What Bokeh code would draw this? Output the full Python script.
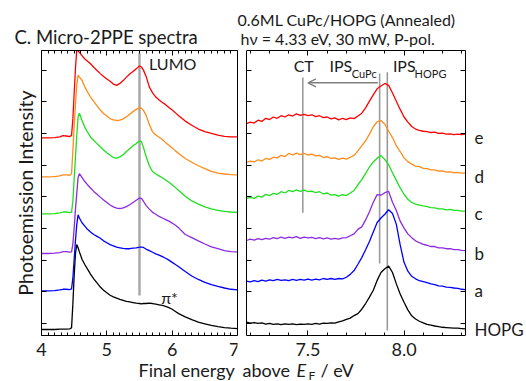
import math
from bokeh.plotting import figure
from bokeh.models import (Range1d, LinearAxis, FixedTicker, Label, Arrow, OpenHead,
                          NumeralTickFormatter)
from bokeh.layouts import row, column
from bokeh.embed import file_html
from bokeh.resources import INLINE

FONT = "Lato"
TEXT = "#1a1a1a"
GRAY = "#9a9a9a"

# ---------------- data ----------------
names = ["HOPG", "a", "b", "c", "d", "e"]
colors = ["#000000", "#0000ff", "#8b2be2", "#1ee01e", "#ff8c1a", "#ff0000"]
offsets = [-0.19, 1.03, 2.21, 3.46, 4.63, 5.86]

left_energy = [4.00, 4.10, 4.20, 4.28, 4.33, 4.38, 4.43,
               4.46, 4.48, 4.50, 4.52, 4.54, 4.56, 4.58,
               4.62, 4.66, 4.70, 4.75, 4.80, 4.85, 4.90, 4.95,
               5.00, 5.05, 5.10, 5.15, 5.20, 5.25, 5.30, 5.35, 5.40, 5.45,
               5.50, 5.53, 5.56, 5.60, 5.65, 5.70, 5.75, 5.80, 5.85, 5.90, 5.95,
               6.00, 6.05, 6.10,
               6.20, 6.30, 6.40, 6.50, 6.60, 6.70, 6.80, 6.90, 7.00]

left_hopg = [0.00, 0.00, 0.00, 0.01, 0.01, 0.01, 0.02,
             0.05, 0.80, 1.70, 2.40, 2.68, 2.58, 2.45,
             2.22, 2.06, 1.92, 1.75, 1.60, 1.47, 1.34, 1.24,
             1.16, 1.08, 1.03, 0.99, 0.95, 0.92, 0.89, 0.87, 0.85, 0.83,
             0.82, 0.81, 0.82, 0.82, 0.83, 0.82, 0.80, 0.78, 0.76, 0.73, 0.69,
             0.64, 0.57, 0.50,
             0.40, 0.31, 0.23, 0.18, 0.13, 0.09, 0.06, 0.04, 0.03]
left_a = [0.00, 0.00, 0.01, 0.03, 0.05, 0.05, 0.04,
          0.06, 0.40, 1.00, 1.60, 2.10, 2.40, 2.30,
          2.15, 2.05, 1.95, 1.86, 1.78, 1.72, 1.66, 1.58,
          1.52, 1.46, 1.42, 1.38, 1.36, 1.34, 1.33, 1.33, 1.35, 1.36,
          1.38, 1.38, 1.37, 1.32, 1.27, 1.22, 1.17, 1.13, 1.08, 1.03, 0.97,
          0.90, 0.83, 0.76,
          0.61, 0.47, 0.36, 0.27, 0.20, 0.14, 0.09, 0.05, 0.03]
left_b = [0.00, 0.00, 0.01, 0.03, 0.06, 0.06, 0.04,
          0.05, 0.30, 0.80, 1.40, 1.90, 2.40, 2.52,
          2.40, 2.28, 2.18, 2.07, 1.96, 1.87, 1.78, 1.69,
          1.61, 1.53, 1.47, 1.43, 1.42, 1.44, 1.48, 1.54, 1.61, 1.68,
          1.75, 1.74, 1.65, 1.52, 1.40, 1.30, 1.24, 1.17, 1.12, 1.07, 1.02,
          0.96, 0.89, 0.81,
          0.60, 0.50, 0.40, 0.30, 0.21, 0.15, 0.09, 0.06, 0.05]
left_c = [0.00, 0.00, 0.01, 0.03, 0.06, 0.06, 0.04,
          0.05, 0.40, 1.10, 1.80, 2.50, 3.05, 3.18,
          2.95, 2.75, 2.60, 2.43, 2.32, 2.22, 2.12, 2.02,
          1.93, 1.85, 1.78, 1.76, 1.80, 1.87, 1.97, 2.06, 2.15, 2.22,
          2.30, 2.28, 2.10, 1.82, 1.52, 1.34, 1.26, 1.20, 1.14, 1.07, 1.00,
          0.92, 0.83, 0.74,
          0.56, 0.41, 0.31, 0.22, 0.16, 0.11, 0.08, 0.06, 0.05]
left_d = [0.00, 0.00, 0.01, 0.03, 0.06, 0.06, 0.05,
          0.10, 0.80, 1.60, 2.30, 2.90, 3.21, 3.15,
          3.05, 2.85, 2.70, 2.52, 2.38, 2.24, 2.11, 2.00,
          1.92, 1.84, 1.80, 1.78, 1.79, 1.83, 1.90, 1.98, 2.06, 2.13,
          2.18, 2.17, 2.10, 1.95, 1.65, 1.42, 1.32, 1.25, 1.18, 1.08, 1.00,
          0.91, 0.82, 0.74,
          0.58, 0.46, 0.35, 0.26, 0.17, 0.12, 0.09, 0.07, 0.06]
left_e = [0.00, 0.00, 0.01, 0.03, 0.07, 0.06, 0.04,
          0.08, 0.60, 1.40, 2.20, 2.80, 2.75, 2.70,
          2.60, 2.50, 2.43, 2.34, 2.23, 2.13, 2.03, 1.94,
          1.86, 1.79, 1.70, 1.66, 1.72, 1.81, 1.92, 2.02, 2.10, 2.18,
          2.27, 2.24, 2.14, 1.95, 1.61, 1.42, 1.29, 1.20, 1.12, 1.05, 0.96,
          0.88, 0.79, 0.70,
          0.53, 0.40, 0.28, 0.20, 0.14, 0.09, 0.05, 0.03, 0.03]

right_energy = [7.18, 7.20, 7.22, 7.24, 7.26, 7.28, 7.30, 7.32, 7.34, 7.36,
                7.38, 7.40, 7.42, 7.44, 7.46, 7.48, 7.50, 7.52, 7.54, 7.56,
                7.58, 7.60, 7.62, 7.64, 7.66, 7.68, 7.70, 7.72, 7.74, 7.76,
                7.78, 7.80, 7.82, 7.84, 7.86, 7.88, 7.90, 7.92, 7.94, 7.96,
                7.98, 8.00, 8.02, 8.04, 8.06, 8.08, 8.10, 8.12, 8.14, 8.16,
                8.18, 8.20, 8.22, 8.24, 8.26, 8.28, 8.30, 8.32]

right_hopg = [0.23, 0.20, 0.22, 0.19, 0.21, 0.17, 0.19, 0.16, 0.18, 0.15,
              0.18, 0.16, 0.18, 0.15, 0.17, 0.16, 0.18, 0.16, 0.19, 0.17,
              0.20, 0.19, 0.21, 0.20, 0.24, 0.27, 0.32, 0.36, 0.44, 0.50,
              0.64, 0.82, 1.02, 1.24, 1.55, 1.80, 1.92, 2.00, 1.80, 1.44,
              1.12, 0.86, 0.62, 0.43, 0.33, 0.26, 0.21, 0.16, 0.14, 0.11,
              0.09, 0.07, 0.06, 0.05, 0.04, 0.04, 0.03, 0.02]
right_a = [0.31, 0.28, 0.32, 0.29, 0.34, 0.31, 0.35, 0.32, 0.36, 0.33,
           0.35, 0.32, 0.36, 0.33, 0.36, 0.34, 0.37, 0.34, 0.37, 0.35,
           0.39, 0.36, 0.39, 0.36, 0.39, 0.38, 0.43, 0.52, 0.64, 0.84,
           1.05, 1.30, 1.56, 1.86, 2.16, 2.30, 2.42, 2.56, 2.44, 2.10,
           1.45, 0.90, 0.62, 0.46, 0.38, 0.32, 0.29, 0.26, 0.22, 0.20,
           0.16, 0.15, 0.12, 0.11, 0.09, 0.08, 0.05, 0.04]
right_b = [0.41, 0.45, 0.42, 0.47, 0.44, 0.48, 0.45, 0.50, 0.47, 0.52,
           0.48, 0.52, 0.49, 0.53, 0.48, 0.52, 0.49, 0.51, 0.47, 0.50,
           0.46, 0.49, 0.45, 0.48, 0.45, 0.49, 0.50, 0.56, 0.62, 0.76,
           0.84, 1.06, 1.32, 1.62, 1.86, 1.84, 1.92, 1.96, 1.62, 1.36,
           1.02, 0.80, 0.62, 0.50, 0.40, 0.34, 0.29, 0.26, 0.22, 0.22,
           0.18, 0.18, 0.15, 0.15, 0.12, 0.12, 0.10, 0.09]
right_c = [0.48, 0.52, 0.49, 0.56, 0.53, 0.62, 0.58, 0.65, 0.62, 0.70,
           0.66, 0.74, 0.70, 0.76, 0.71, 0.75, 0.70, 0.72, 0.67, 0.70,
           0.63, 0.66, 0.59, 0.61, 0.56, 0.61, 0.58, 0.66, 0.74, 0.92,
           1.08, 1.28, 1.48, 1.64, 1.76, 1.84, 1.72, 1.55, 1.30, 1.06,
           0.82, 0.62, 0.46, 0.36, 0.31, 0.28, 0.25, 0.23, 0.20, 0.19,
           0.16, 0.16, 0.13, 0.14, 0.11, 0.11, 0.09, 0.09]
right_d = [0.46, 0.50, 0.47, 0.54, 0.50, 0.58, 0.55, 0.62, 0.60, 0.68,
           0.64, 0.74, 0.69, 0.75, 0.70, 0.74, 0.69, 0.72, 0.66, 0.68,
           0.61, 0.64, 0.58, 0.60, 0.55, 0.59, 0.56, 0.62, 0.68, 0.82,
           0.98, 1.14, 1.35, 1.58, 1.74, 1.78, 1.66, 1.44, 1.24, 0.98,
           0.80, 0.60, 0.48, 0.40, 0.34, 0.32, 0.27, 0.26, 0.22, 0.22,
           0.18, 0.19, 0.15, 0.16, 0.13, 0.14, 0.12, 0.12]
right_e = [0.45, 0.50, 0.47, 0.56, 0.52, 0.62, 0.58, 0.66, 0.62, 0.70,
           0.66, 0.73, 0.69, 0.76, 0.71, 0.74, 0.70, 0.73, 0.67, 0.70,
           0.64, 0.66, 0.60, 0.63, 0.57, 0.62, 0.58, 0.63, 0.61, 0.69,
           0.78, 0.95, 1.16, 1.36, 1.55, 1.64, 1.72, 1.66, 1.42, 1.16,
           0.90, 0.66, 0.50, 0.36, 0.28, 0.24, 0.21, 0.20, 0.17, 0.18,
           0.14, 0.15, 0.12, 0.13, 0.10, 0.12, 0.10, 0.12]

left_spectra = [left_hopg, left_a, left_b, left_c, left_d, left_e]
right_spectra = [right_hopg, right_a, right_b, right_c, right_d, right_e]

lumo_energy = 5.50
ct_energy = 7.473
ips_cupc_energy = 7.873
ips_hopg_energy = 7.913

left_xlim = (4.0, 7.0)
right_xlim = (7.18, 8.32)
ylim = (-0.38, 8.62)
left_xticks = [4, 5, 6, 7]
right_xticks = [7.5, 8.0]
yticks = [0, 1, 2, 3, 4, 5, 6, 7, 8]

# ---------------- layout geometry (pixels) ----------------
HEAD_H = 47                  # header strip; panel frames start at y = 50
TOP_B = 50 - HEAD_H
PANEL_H = 381 - HEAD_H
PX_PER_Y = 285 / (ylim[1] - ylim[0])         # box is 285 px tall (50..335)
Y_LOW = ylim[0] - (PANEL_H - TOP_B - 285) / PX_PER_Y   # frame reaches canvas bottom

L_PX = 196 / (left_xlim[1] - left_xlim[0])   # box 41..237
L_X0 = left_xlim[0] - 41 / L_PX              # frame starts at x = 0
R_PX = 219 / (right_xlim[1] - right_xlim[0])  # box 246..465
R_X0 = right_xlim[0] - 7 / R_PX              # frame starts at x = 239


def make_fig(x0, x1, width, br):
    p = figure(width=width, height=PANEL_H, x_range=Range1d(x0, x1),
               y_range=Range1d(Y_LOW, ylim[1]), title=None,
               output_backend="svg", toolbar_location=None,
               min_border_left=0, min_border_right=br, min_border_top=TOP_B,
               min_border_bottom=0, x_axis_location=None, y_axis_location=None)
    for g in p.grid:
        g.visible = False
    p.outline_line_color = None
    p.background_fill_color = "white"
    p.border_fill_color = "white"
    return p


def add_axis(p, side, ticker, bounds, fixed=None, show_labels=False, fmt=None,
             minor=True, ticks=True):
    ax = LinearAxis(ticker=ticker, bounds=bounds)
    if fixed is not None:
        ax.fixed_location = fixed
    ax.major_tick_in = 5 if ticks else 0
    ax.major_tick_out = 0
    ax.minor_tick_in = 3 if (minor and ticks) else 0
    ax.minor_tick_out = 0
    ax.axis_line_color = "black"
    ax.major_tick_line_color = "black"
    ax.minor_tick_line_color = "black"
    if show_labels:
        ax.major_label_text_font = FONT
        ax.major_label_text_font_size = "18px"
        ax.major_label_text_color = TEXT
        ax.major_label_standoff = 7
        if fmt:
            ax.formatter = NumeralTickFormatter(format=fmt)
    else:
        ax.major_label_text_font_size = "0px"
        ax.major_label_text_color = None
        ax.major_label_standoff = 0
    p.add_layout(ax, side)
    return ax


def lab(p, x, y, text, size, align="left", baseline="middle", style="normal", angle=0.0):
    p.add_layout(Label(x=x, y=y, text=text, text_font=FONT, text_font_size=size,
                       text_color=TEXT, text_align=align, text_baseline=baseline,
                       text_font_style=style, angle=angle))


def y_at(py):
    """data y of a pixel row (for text placement only)"""
    return ylim[1] - (py - 50) / PX_PER_Y


# ---------------- left panel ----------------
p1 = make_fig(L_X0, left_xlim[1], 239, 2)
lminor = [4 + i / 10 for i in range(31)]
add_axis(p1, "below", FixedTicker(ticks=left_xticks, minor_ticks=lminor), left_xlim,
         fixed=ylim[0], show_labels=True)
add_axis(p1, "above", FixedTicker(ticks=left_xticks, minor_ticks=lminor), left_xlim)
add_axis(p1, "left", FixedTicker(ticks=yticks), ylim, fixed=left_xlim[0], minor=False)
add_axis(p1, "right", FixedTicker(ticks=yticks), ylim, ticks=False)

p1.segment(x0=[lumo_energy], y0=[0.88], x1=[lumo_energy], y1=[8.53],
           line_color="#a8a8a8", line_width=2.5)
for spec, off, col in zip(left_spectra, offsets, colors):
    p1.line(left_energy, [v + off for v in spec], line_color=col, line_width=1.3)

lab(p1, 6.008, 8.21, "LUMO", "16px", align="center")
lab(p1, 5.96, 0.83, "π*", "16px", align="center")
lab(p1, left_xlim[0] - 16 / L_PX, (ylim[0] + ylim[1]) / 2, "Photoemission Intensity",
    "19.5px", align="center", angle=math.pi / 2)
lab(p1, left_xlim[0] + 97 / L_PX, y_at(369), "Final energy", "18px")

# ---------------- right panel ----------------
p2 = make_fig(R_X0, right_xlim[1], 287, 61)
rminor = [7.2 + i / 10 for i in range(12)]
add_axis(p2, "below", FixedTicker(ticks=right_xticks, minor_ticks=rminor), right_xlim,
         fixed=ylim[0], show_labels=True, fmt="0.0")
add_axis(p2, "above", FixedTicker(ticks=right_xticks, minor_ticks=rminor), right_xlim)
add_axis(p2, "left", FixedTicker(ticks=yticks), ylim, fixed=right_xlim[0], minor=False)
add_axis(p2, "right", FixedTicker(ticks=yticks), ylim, minor=False)

# sample names as labels of an extra right axis placed at each spectrum's baseline
name_axis = LinearAxis(ticker=FixedTicker(ticks=offsets),
                       major_label_overrides={o: n for o, n in zip(offsets, names)})
name_axis.axis_line_color = None
name_axis.major_tick_line_color = None
name_axis.major_tick_in = 0
name_axis.major_tick_out = 0
name_axis.minor_tick_line_color = None
name_axis.major_label_text_font = FONT
name_axis.major_label_text_font_size = "17px"
name_axis.major_label_text_color = TEXT
name_axis.major_label_standoff = 9
p2.add_layout(name_axis, "right")

p2.segment(x0=[ct_energy, ips_cupc_energy, ips_hopg_energy], y0=[3.50, 1.89, -0.22],
           x1=[ct_energy, ips_cupc_energy, ips_hopg_energy], y1=[7.77, 7.89, 7.93],
           line_color=GRAY, line_width=1.6)
for spec, off, col in zip(right_spectra, offsets, colors):
    p2.line(right_energy, [v + off for v in spec], line_color=col, line_width=1.3)

p2.add_layout(Arrow(end=OpenHead(size=8, line_color="#808080", line_width=1.5),
                    x_start=ips_cupc_energy - 0.009, y_start=7.60,
                    x_end=7.50, y_end=7.60, line_color="#808080", line_width=1.5))

lab(p2, 7.478, 8.157, "CT", "16px", align="center")
lab(p2, 7.612, 8.157, "IPS", "16px")
lab(p2, 7.728, 7.894, "CuPc", "11px")
lab(p2, 7.942, 8.157, "IPS", "16px")
lab(p2, 8.055, 7.894, "HOPG", "11px")

rx = lambda px: right_xlim[0] + (px - 246) / R_PX
lab(p2, rx(242), y_at(369), "above", "18px")
lab(p2, rx(296), y_at(369), "E", "18px", style="italic")
lab(p2, rx(308), y_at(375), "F", "12px")
lab(p2, rx(320), y_at(369), "/ eV", "18px")

# ---------------- header strip (pixel coordinates) ----------------
head = figure(width=526, height=HEAD_H, x_range=Range1d(0, 526),
              y_range=Range1d(HEAD_H, 0), title=None, output_backend="svg",
              toolbar_location=None, min_border=0, x_axis_location=None,
              y_axis_location=None)
for g in head.grid:
    g.visible = False
head.outline_line_color = None
head.border_fill_color = "white"
lab(head, 14, 36, "C. Micro-2PPE spectra", "18.5px")
lab(head, 237, 19, "0.6ML CuPc/HOPG (Annealed)", "16px")
lab(head, 240, 38, "hν = 4.33 eV, 30 mW, P-pol.", "16px")

layout = column(head, row(p1, p2))
open("out.html", "w").write(file_html(layout, INLINE))
